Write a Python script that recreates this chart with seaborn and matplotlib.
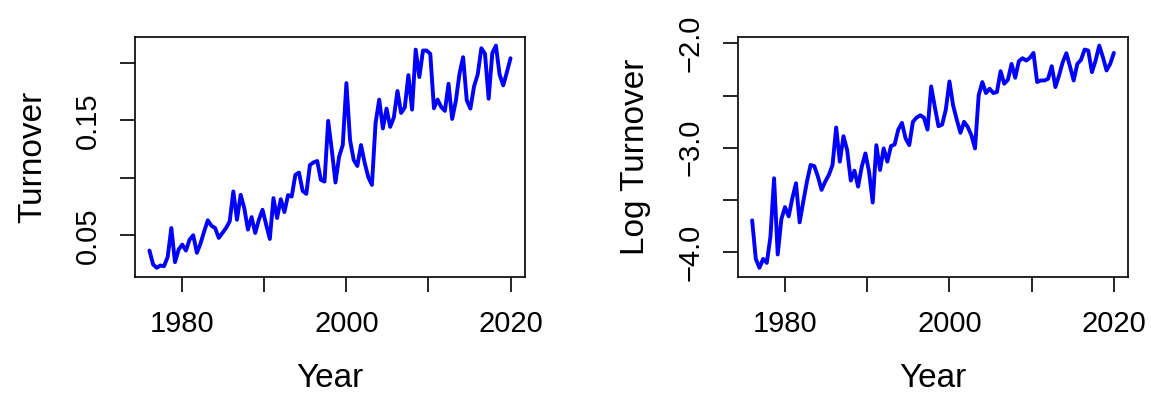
import numpy as np
import matplotlib
matplotlib.use("Agg")
import matplotlib.pyplot as plt
import seaborn as sns

# DATA (100 evenly spaced obs 1976-2020)
years = np.linspace(1976, 2020, 100)

turnover = [
    0.0367, 0.0246, 0.0217, 0.0237, 0.0231, 0.0312, 0.0563, 0.0266, 0.0376, 0.0419,
    0.0367, 0.0462, 0.0500, 0.0347, 0.0428, 0.0534, 0.0630, 0.0583, 0.0563, 0.0477,
    0.0520, 0.0563, 0.0621, 0.0881, 0.0635, 0.0852, 0.0736, 0.0549, 0.0658, 0.0520,
    0.0635, 0.0722, 0.0592, 0.0468, 0.0823, 0.0650, 0.0814, 0.0702, 0.0849, 0.0837,
    0.1025, 0.1045, 0.0886, 0.0860, 0.1111, 0.1134, 0.1146, 0.0982, 0.0967, 0.1495,
    0.1241, 0.0959, 0.1184, 0.1285, 0.1824, 0.1328, 0.1155, 0.1103, 0.1285, 0.1132,
    0.1005, 0.0938, 0.1478, 0.1680, 0.1429, 0.1602, 0.1443, 0.1524, 0.1755, 0.1564,
    0.1611, 0.1893, 0.1593, 0.2115, 0.1876, 0.2107, 0.2107, 0.2078, 0.1605, 0.1680,
    0.1616, 0.1582, 0.1818, 0.1512, 0.1668, 0.1905, 0.2049, 0.1674, 0.1602, 0.1795,
    0.1899, 0.2127, 0.2078, 0.1688, 0.2084, 0.2150, 0.1899, 0.1804, 0.1919, 0.2040,
]

log_turnover = [
    -3.695, -4.064, -4.149, -4.064, -4.102, -3.854, -3.292, -4.022, -3.683, -3.568,
    -3.657, -3.483, -3.340, -3.714, -3.514, -3.324, -3.165, -3.175, -3.276, -3.403,
    -3.324, -3.260, -3.165, -2.806, -3.133, -2.889, -3.022, -3.314, -3.219, -3.372,
    -3.181, -3.054, -3.229, -3.524, -2.975, -3.213, -3.006, -3.133, -2.984, -2.968,
    -2.826, -2.762, -2.911, -2.975, -2.752, -2.711, -2.689, -2.711, -2.826, -2.413,
    -2.610, -2.794, -2.778, -2.635, -2.365, -2.594, -2.730, -2.857, -2.752, -2.800,
    -2.879, -3.006, -2.498, -2.371, -2.476, -2.435, -2.476, -2.467, -2.267, -2.387,
    -2.349, -2.197, -2.330, -2.171, -2.143, -2.165, -2.140, -2.092, -2.371, -2.356,
    -2.356, -2.340, -2.219, -2.419, -2.308, -2.181, -2.095, -2.222, -2.356, -2.197,
    -2.159, -2.060, -2.070, -2.276, -2.165, -2.022, -2.133, -2.260, -2.197, -2.092,
]

x_ticks = [1980, 1990, 2000, 2010, 2020]
x_ticklabels = ["1980", "", "2000", "", "2020"]
y1_ticks = [0.05, 0.10, 0.15, 0.20]
y1_ticklabels = ["0.05", "", "0.15", ""]
y2_ticks = [-4.0, -3.5, -3.0, -2.5, -2.0]
y2_ticklabels = ["\u22124.0", "", "\u22123.0", "", "\u22122.0"]

# STYLE
sns.set_theme(style="ticks")
plt.rcParams['font.family'] = ['Liberation Sans', 'DejaVu Sans']
plt.rcParams.update({
    'text.color': 'black',
    'axes.labelcolor': 'black',
    'xtick.color': 'black',
    'ytick.color': 'black',
    'axes.edgecolor': 'black',
    'axes.linewidth': 1.2,
})

fig = plt.figure(figsize=(11.51, 3.96), dpi=100)
ax1 = fig.add_axes([0.1173, 0.3013, 0.3388, 0.606])
ax2 = fig.add_axes([0.6409, 0.3013, 0.3394, 0.606])

panels = [
    (ax1, turnover, "Turnover", y1_ticks, y1_ticklabels),
    (ax2, log_turnover, "Log Turnover", y2_ticks, y2_ticklabels),
]

for ax, vals, ylab, yt, ytl in panels:
    sns.lineplot(x=years, y=vals, ax=ax, color='blue', linewidth=2.8)
    ax.margins(x=0.04, y=0.04)
    ax.set_xticks(x_ticks)
    ax.set_xticklabels(x_ticklabels)
    ax.set_yticks(yt)
    ax.set_yticklabels(ytl, rotation=90, va='center')
    ax.tick_params(axis='both', direction='out', length=11, width=1.2,
                   pad=13, labelsize=21)
    for s in ax.spines.values():
        s.set_visible(True)
    ax.set_xlabel("Year", fontsize=24)
    ax.set_ylabel(ylab, fontsize=24)
    ax.xaxis.set_label_coords(0.5, -0.36)
    ax.yaxis.set_label_coords(-0.222, 0.5)

plt.savefig("out.png", dpi=100)
plt.close()
